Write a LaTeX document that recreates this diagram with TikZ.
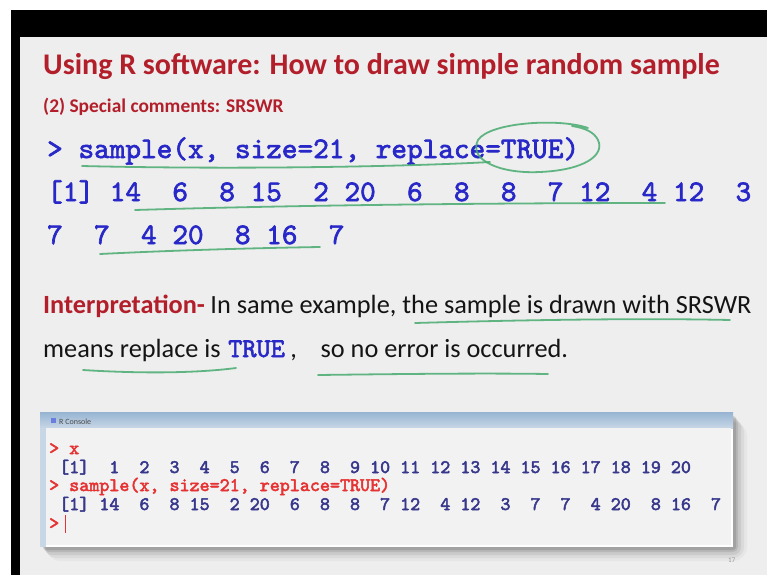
\documentclass[tikz,border=0pt]{standalone}
\usepackage{fontspec}
\setmainfont{Carlito}
\newfontfamily\codefont{lmmono10-regular.otf}[FakeBold=2.2]
\newfontfamily\consfont{lmmono10-regular.otf}[FakeBold=2.6]
\definecolor{slidebg}{RGB}{238,238,238}
\definecolor{titlered}{RGB}{178,30,42}
\definecolor{codeblue}{RGB}{40,40,200}
\definecolor{pengreen}{RGB}{70,170,110}
\definecolor{bodytext}{RGB}{20,20,20}
\definecolor{consbg}{RGB}{242,242,242}
\definecolor{consblue}{RGB}{55,55,140}
\definecolor{consred}{RGB}{230,50,50}
\definecolor{barA}{RGB}{150,180,210}
\definecolor{barB}{RGB}{200,215,230}
\tikzset{
  txt/.style={inner sep=0pt,anchor=base west},
  titlestyle/.style={txt,font=\bfseries\fontsize{30}{36}\selectfont,text=titlered},
  substyle/.style={txt,font=\bfseries\fontsize{19.4}{24}\selectfont,text=titlered},
  codestyle/.style={txt,font=\codefont\fontsize{29.8}{34}\selectfont,text=codeblue},
  bodystyle/.style={txt,font=\fontsize{26.3}{31}\selectfont,text=bodytext},
  consout/.style={txt,font=\consfont\fontsize{19.1}{22}\selectfont,text=consblue},
  consin/.style={txt,font=\consfont\fontsize{19.1}{22}\selectfont,text=consred},
  pen/.style={draw=pengreen,line width=1.8pt,opacity=0.85,line cap=round,line join=round}
}
\begin{document}
\begin{tikzpicture}[x=1pt,y=-1pt]
\useasboundingbox (0,0) rectangle (767,575);
\fill[white] (0,0) rectangle (767,575);
\fill[black] (11,10) rectangle (767,575);
\fill[slidebg] (20,37) rectangle (767,575);

% titles
\node[titlestyle] (title) at (43,75) {Using R software: How to draw simple random sample};
\node[substyle] (sub) at (43,113) {(2) Special comments: SRSWR};

% code lines
\node[codestyle] (cmd) at (47,158) {>\ sample(x,\ size=21,\ replace=TRUE)};
\node[codestyle] (row1) at (47,201) {[1]\ 14\ \ 6\ \ 8\ 15\ \ 2\ 20\ \ 6\ \ 8\ \ 8\ \ 7\ 12\ \ 4\ 12\ \ 3};
\node[codestyle] (row2) at (47,244) {7\ \ 7\ \ 4\ 20\ \ 8\ 16\ \ 7};

% interpretation
\node[txt,font=\bfseries\fontsize{26.3}{31}\selectfont,text=titlered] (interp) at (43,313) {Interpretation-};
\node[bodystyle,anchor=base west] (interp2) at ([xshift=5pt]interp.base east) {In same example, the sample is drawn with SRSWR};
\node[bodystyle] (means) at (43,357) {means replace is};
\node[txt,font=\codefont\fontsize{27}{31}\selectfont,text=codeblue] (true) at ([xshift=7pt]means.base east) {TRUE};
\node[bodystyle] (rest) at ([xshift=5pt]true.base east) {,\ \ \ \ so no error is occurred.};

% green pen marks
\draw[pen] (82,166) .. controls (250,170) and (420,166) .. (490,162);
\draw[pen] (588,128) .. controls (560,118) and (490,122) .. (478,140)
  .. controls (468,160) and (500,174) .. (540,172)
  .. controls (585,170) and (605,155) .. (598,140)
  .. controls (594,132) and (585,128) .. (572,126);
\draw[pen] (135,210) .. controls (300,205) and (500,203) .. (665,203);
\draw[pen] (100,254) .. controls (180,250) and (260,248) .. (320,247);
\draw[pen] (415,323) .. controls (520,320) and (640,318) .. (730,320);
\draw[pen] (83,370) .. controls (130,373) and (190,374) .. (236,368);
\draw[pen] (318,375) .. controls (400,374) and (480,373) .. (548,374);

% console shadow
\foreach \d/\o in {14/0.03,11/0.05,8/0.07,5/0.09,3/0.11}{
  \fill[black,opacity=\o,rounded corners=\d pt] (42+\d*0.3,414+\d*0.6) rectangle (733+\d,547+\d);
}
% console window
\fill[white] (40,412) rectangle (733,547);
\shade[top color=barA,bottom color=barB] (40,412) rectangle (733,428);
\fill[consbg] (46,428) rectangle (731,545);
\fill[barB] (40,428) rectangle (46,547);
\node[txt,font=\fontsize{8}{9}\selectfont,text=black!70] (ctitle) at (59,424) {R Console};
\fill[barA!70!blue] (51,418) rectangle (56,423);

\node[consin] (c1p) at (49,454) {>\ x};
\node[consout] (c2) at (49,473) {\ [1]\ \ 1\ \ 2\ \ 3\ \ 4\ \ 5\ \ 6\ \ 7\ \ 8\ \ 9\ 10\ 11\ 12\ 13\ 14\ 15\ 16\ 17\ 18\ 19\ 20};
\node[consin] (c3) at (49,491) {>\ sample(x,\ size=21,\ replace=TRUE)};
\node[consout] (c4) at (49,510) {\ [1]\ 14\ \ 6\ \ 8\ 15\ \ 2\ 20\ \ 6\ \ 8\ \ 8\ \ 7\ 12\ \ 4\ 12\ \ 3\ \ 7\ \ 7\ \ 4\ 20\ \ 8\ 16\ \ 7};
\node[consin] (c5) at (49,529) {>};
\draw[consred,line width=1.5pt] ([xshift=6pt]c5.base east) ++(0,4) -- ++(0,-18);

\node[txt,font=\fontsize{7}{8}\selectfont,text=black!40] (pg) at (728,562) {17};
\end{tikzpicture}
\end{document}
